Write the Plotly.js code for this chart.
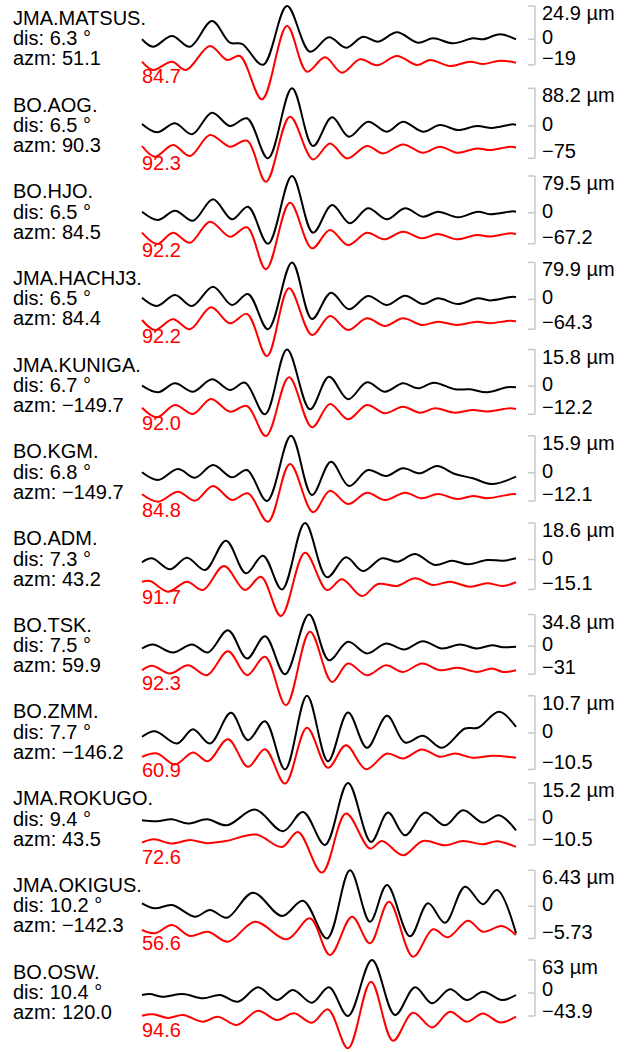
<!DOCTYPE html>
<html>
<head>
<meta charset="utf-8">
<script src="https://cdn.plot.ly/plotly-3.0.1.min.js"></script>
<style>html,body{margin:0;padding:0;background:#fff;}#chart{width:624px;height:1052px;}</style>
</head>
<body>
<div id="chart"></div>
<script>
// ---------- station metadata ----------
const stations = ["JMA.MATSUS.", "BO.AOG.", "BO.HJO.", "JMA.HACHJ3.", "JMA.KUNIGA.", "BO.KGM.", "BO.ADM.", "BO.TSK.", "BO.ZMM.", "JMA.ROKUGO.", "JMA.OKIGUS.", "BO.OSW."];
const distDeg = [6.3, 6.5, 6.5, 6.5, 6.7, 6.8, 7.3, 7.5, 7.7, 9.4, 10.2, 10.4];
const azimuth = [51.1, 90.3, 84.5, 84.4, -149.7, -149.7, 43.2, 59.9, -146.2, 43.5, -142.3, 120.0];
const varRed = ["84.7", "92.3", "92.2", "92.2", "92.0", "84.8", "91.7", "92.3", "60.9", "72.6", "56.6", "94.6"];
const obsMaxUm = ["24.9", "88.2", "79.5", "79.9", "15.8", "15.9", "18.6", "34.8", "10.7", "15.2", "6.43", "63"];
const obsMinUm = [-19, -75, -67.2, -64.3, -12.2, -12.1, -15.1, -31, -10.5, -10.5, -5.73, -43.9];

// ---------- waveforms (time, relative amplitude) ----------
const tObs1 = [0, 11, 30, 48, 70, 88, 100, 121, 145, 168, 187, 204, 221, 236, 255, 276, 291, 311, 331, 341, 358, 374];
const aObs1 = [0, -7.4, 3.3, -7.4, 18.3, -3.4, -4.5, -25.5, 33.3, -12.4, 2, -8.4, 2.6, -2.4, 7, -3.4, 1, -4, 1, 0, 5, 0];
const tSyn1 = [0, 11, 30, 44, 68, 85, 98, 120, 145, 165, 183, 200, 218, 235, 255, 275, 288, 308, 328, 341, 358, 374];
const aSyn1 = [0, -8.3, 0, -8.3, 15.7, 1.7, 5.7, -37.6, 35.7, -10, 4.4, -11, 2.4, -3.6, 5.7, -3.3, 1.7, -4.3, 0, -2.3, 1, -1];

const tObs2 = [0, 15, 33, 50, 70, 88, 105, 126, 150, 171, 190, 207, 226, 245, 261, 281, 298, 316, 335, 350, 371, 374];
const aObs2 = [2, -6.3, 2.7, -8.3, 13.3, 0, 7.7, -32.3, 37.7, -20, 8.7, -10.7, 4.3, -5.7, 4.3, -5.7, 1, -4, 0, -2, 1.7, 1];
const tSyn2 = [0, 13, 31, 48, 68, 88, 105, 124, 148, 171, 188, 205, 225, 241, 261, 281, 298, 315, 335, 348, 368, 374];
const aSyn2 = [2.4, -8.3, 3.4, -7.6, 13.4, 1.7, 7.7, -33.3, 31.7, -11, 5, -10, 2.4, -5, 4, -4.3, 1.7, -4.3, 0, -1.6, 1.7, 1];

const tObs3 = [0, 16, 33, 51, 71, 90, 106, 126, 150, 171, 190, 208, 226, 245, 263, 281, 296, 316, 336, 348, 371, 374];
const aObs3 = [1, -7.3, 2, -8, 13.4, -6.6, 6, -31, 36.7, -20, 7.7, -10.6, 4.4, -6.6, 4.4, -4, 1, -4.6, 1, -1.5, 1.4, 1];
const tSyn3 = [0, 15, 31, 48, 68, 88, 105, 124, 148, 170, 188, 206, 225, 242, 261, 280, 296, 315, 335, 348, 368, 374];
const aSyn3 = [2.4, -8.9, 2.4, -7.6, 13.4, -1.6, 7.8, -34.2, 32.4, -13.2, 5.1, -9.9, 2.4, -4.2, 3.4, -3.2, 1.1, -4.2, 0.1, -1.5, 1.8, 1.1];

const tObs4 = [0, 15, 33, 50, 71, 90, 106, 126, 150, 170, 189, 207, 226, 245, 263, 281, 296, 316, 336, 348, 371, 374];
const aObs4 = [1.7, -6.6, 4.4, -6.6, 12.7, -5.6, 5.4, -29.8, 37, -19.6, 6.7, -9.9, 3.4, -5.6, 3.7, -4.6, 1.1, -4.6, 1.1, -1, 2.7, 2.1];
const tSyn4 = [0, 13, 31, 48, 69, 88, 105, 125, 147, 170, 188, 206, 225, 243, 261, 280, 296, 315, 335, 348, 368, 374];
const aSyn4 = [1.8, -8.2, 2.5, -7.5, 14.5, -1.5, 7.8, -34.2, 33.5, -13.2, 5.8, -8.2, 3.5, -4.2, 3.5, -3.2, 0.1, -3.2, 0, -1.5, 1.1, 0.5];

const tObs5 = [0, 16, 33, 51, 70, 88, 103, 123, 145, 168, 187, 206, 225, 243, 261, 276, 292, 313, 328, 345, 365, 374];
const aObs5 = [0.4, -6.2, 2.8, -5.6, 6.8, -3.9, 3.4, -28.2, 36.5, -23.2, 9.4, -13.2, 3.8, -5.6, 2.8, -2.2, 3.4, -3.2, -3.2, -6.2, -1.2, -1.2];
const tSyn5 = [0, 15, 33, 51, 69, 88, 105, 124, 147, 170, 188, 206, 225, 243, 261, 278, 293, 313, 331, 345, 368, 374];
const aSyn5 = [0.8, -8.8, 3.5, -5.5, 9.5, -3.2, 2.5, -27.5, 31.2, -18.8, 4.5, -10.8, 3.5, -4.8, 1.8, -4.2, 0.2, -4.2, -1.5, -3, 0.2, -0.5];

const tObs6 = [0, 16, 36, 53, 71, 90, 105, 125, 149, 170, 189, 207, 226, 244, 261, 278, 295, 313, 331, 350, 374];
const aObs6 = [0.5, -7.2, 3.8, -4.9, 7.8, -4.5, 2.8, -28.2, 37, -22.2, 11.1, -13.2, 2.8, -3.2, 4.5, -0.5, 6.8, -1.2, -5.5, -11.2, -3.9];
const tSyn6 = [0, 16, 36, 53, 71, 90, 106, 126, 148, 171, 188, 206, 225, 243, 263, 280, 296, 315, 331, 345, 371, 374];
const aSyn6 = [0.9, -6.5, 3.5, -5.5, 9.2, -4.8, 1.9, -26.5, 31.2, -17, 4.5, -8.8, 2.5, -4.8, 2.5, -3.1, 1.2, -3.8, -0.8, -3, 1.2, 0.9];

const tObs7 = [0, 10, 28, 45, 63, 84, 104, 121, 140, 163, 185, 204, 221, 240, 256, 273, 293, 310, 326, 345, 361, 374];
const aObs7 = [-2.8, 1.2, -9.8, 1.8, -10.5, 18.8, -13.8, 3.8, -30, 36.5, -17.8, 2.2, -11.5, 1.2, -2.2, 5.5, -5.5, -1.2, -4.8, -0.5, -1.2, 1.2];
const tSyn7 = [0, 8, 26, 45, 61, 82, 103, 119, 139, 163, 185, 200, 220, 236, 255, 273, 291, 308, 328, 345, 361, 374];
const aSyn7 = [0.2, 1, -9.8, 0.2, -8.1, 15.9, -8.1, 5.2, -34.1, 29.2, -8.1, 2.6, -14.1, -2.1, -4, 3.6, -3.1, 0.2, -4.8, -1.4, -4, -0.4];

const tObs8 = [0, 11, 31, 50, 66, 86, 105, 123, 143, 167, 187, 206, 225, 244, 262, 281, 300, 318, 335, 350, 361, 374];
const aObs8 = [-2.3, 1.7, -6.3, 1.7, -6.3, 16, -12.3, 10, -28, 31.7, -14, 4.4, -7.3, 2.7, -3.3, 5, -2.3, 1.7, -2.3, 1, -1, -0.6];
const tSyn8 = [0, 10, 28, 46, 65, 86, 105, 123, 144, 168, 190, 206, 225, 244, 261, 280, 298, 316, 335, 350, 361, 374];
const aSyn8 = [-1.6, 2.8, -4.9, 3.4, -6.6, 17.4, -6.6, 11.8, -36.6, 36.8, -13.3, 5.1, -6.6, 3.4, -3.3, 5.1, -1.6, 0.8, -3.3, 0.1, -3.3, -1.6];

const tObs9 = [0, 13, 35, 51, 68, 89, 106, 123, 143, 165, 186, 206, 225, 245, 263, 281, 300, 323, 336, 357, 374];
const aObs9 = [-3.9, 1.7, -10.6, 3.7, -10.6, 20.1, -7.3, 11.7, -36.5, 37.1, -28.3, 20.4, -14.9, 17.1, -9.6, -2.9, -14.9, 4.4, 5.1, 21.1, 6.1];
const tSyn9 = [0, 15, 33, 51, 66, 86, 106, 123, 143, 165, 186, 204, 224, 245, 261, 280, 298, 313, 331, 351, 374];
const aSyn9 = [-1.5, 1.8, -9.2, 2.8, -5.9, 16.1, -11.5, 6.1, -28.2, 27.5, -12.5, 10.1, -13.9, 1.8, -3.2, 5.8, -1.5, 1.8, -2.5, -0.5, -2.5];

const tObs10 = [0, 15, 30, 46, 65, 85, 113, 141, 161, 183, 206, 229, 246, 263, 283, 303, 321, 341, 357, 374];
const aObs10 = [-0.7, -1.7, 0.3, -4, 0.3, -5.7, 10, -11.7, 7.7, -25.3, 36.7, -22.3, 7, -15.7, 7, -5.7, 9.3, -3, 4.4, -10.7];
const tSyn10 = [0, 12, 30, 48, 64, 84, 114, 140, 156, 180, 204, 228, 240, 261, 281, 303, 321, 341, 355, 374];
const aSyn10 = [-0.6, 2.7, -1.6, 1.9, -1.1, 0.9, 7.4, -4.9, 10.1, -30.6, 28.4, -6.6, 1.1, -13.3, 1.1, -3.3, 1.1, -2.3, 0.7, -4.9];

const tObs11 = [0, 13, 30, 53, 68, 85, 111, 140, 161, 185, 208, 228, 245, 268, 286, 303, 323, 341, 355, 374];
const aObs11 = [3, -2, 1.3, -10.4, -3.7, -11.4, 13.6, -9.7, 5.6, -32.2, 36, -15.4, 21.3, -30, 3, -16.4, 19.6, 2, 16.3, -27];
const tSyn11 = [0, 13, 30, 48, 66, 86, 113, 145, 168, 188, 210, 228, 247, 271, 291, 306, 326, 341, 360, 374];
const aSyn11 = [-1.3, -4.6, 3.7, -7.3, -3, -13, 7, -10.6, 10.4, -26.3, 12, -14.6, 27, -28, -0.6, -8.6, 8, -3, 2.7, -6.3];

const tObs12 = [0, 8, 20, 41, 61, 78, 96, 116, 135, 151, 170, 187, 206, 230, 253, 273, 290, 308, 325, 341, 360, 374];
const aObs12 = [-2, -1, -3.7, -1, -5.3, -2, -8.7, 5.7, -7, 3, -9.7, 5.7, -23, 33, -22, 5.7, -10.3, 3.7, -7, 1.3, -7, -2];
const tSyn12 = [0, 11, 26, 41, 61, 76, 95, 116, 135, 152, 170, 186, 206, 229, 251, 271, 290, 308, 325, 341, 358, 374];
const aSyn12 = [-0.3, 1.1, -2.5, 0.4, -6.3, -1.3, -9.6, 4.7, -4.6, 2.1, -7.3, 6, -32.9, 33.7, -25.3, 2.7, -12, 3.7, -6.3, 2, -7, -1.3];

const obsT = [tObs1, tObs2, tObs3, tObs4, tObs5, tObs6, tObs7, tObs8, tObs9, tObs10, tObs11, tObs12];
const obsA = [aObs1, aObs2, aObs3, aObs4, aObs5, aObs6, aObs7, aObs8, aObs9, aObs10, aObs11, aObs12];
const synT = [tSyn1, tSyn2, tSyn3, tSyn4, tSyn5, tSyn6, tSyn7, tSyn8, tSyn9, tSyn10, tSyn11, tSyn12];
const synA = [aSyn1, aSyn2, aSyn3, aSyn4, aSyn5, aSyn6, aSyn7, aSyn8, aSyn9, aSyn10, aSyn11, aSyn12];

// ---------- layout constants ----------
const W = 624, H = 1052;
const STEP = 86.7;      // vertical spacing between stations
const SYN_OFF = 22.4;   // synthetic drawn below observed
const TOP0 = 39.3;      // first zero line from top
const X0 = 142;         // trace start from left
const FONT = "Liberation Sans, Arial, Helvetica, sans-serif";
const FS = 20;
const fmt = v => String(v).replace('-', '\u2212');

const traces = [];
const shapes = [];
const barX = 535 / W, tickX = 528 / W;

// text label collections (drawn as text traces)
const leftX = [], leftY = [], leftT = [];
const redX = [], redY = [], redT = [];
const rightX = [], rightY = [], rightT = [];

stations.forEach((name, k) => {
  const base = -k * STEP;
  traces.push({
    x: obsT[k], y: obsA[k].map(a => a + base),
    mode: 'lines', line: {color: '#000000', width: 2, shape: 'spline', smoothing: 1},
    hoverinfo: 'skip'
  });
  traces.push({
    x: synT[k], y: synA[k].map(a => a + base - SYN_OFF),
    mode: 'lines', line: {color: '#ff0000', width: 2, shape: 'spline', smoothing: 1},
    hoverinfo: 'skip'
  });

  // left labels
  const lx = 13 - X0;
  leftX.push(lx, lx, lx);
  leftY.push(base + 19.5, base - 1, base - 21);
  leftT.push(name, 'dis: ' + distDeg[k].toFixed(1) + ' \u00b0', 'azm: ' + fmt(azimuth[k].toFixed(1)));
  redX.push(0); redY.push(base - 39); redT.push(varRed[k]);

  // scale bar from the observed extremes
  const mx = Math.max(...obsA[k]), mn = Math.min(...obsA[k]);
  const grey = {color: '#c8c8c8', width: 1.5};
  shapes.push({type: 'line', xref: 'paper', yref: 'y', x0: barX, x1: barX, y0: base + mx, y1: base + mn, line: grey});
  [mx, 0, mn].forEach(v => shapes.push({type: 'line', xref: 'paper', yref: 'y', x0: tickX, x1: barX, y0: base + v, y1: base + v, line: grey}));

  // right labels with simple de-overlap
  let dTop = mx - 9, dZero = 0, dBot = mn + 5;
  const G = 21.5;
  for (let it = 0; it < 3; it++) {
    if (dTop - dZero < G) { const o = G - (dTop - dZero); dTop += o / 2; dZero -= o / 2; }
    if (dZero - dBot < G) { const o = G - (dZero - dBot); dZero += o / 2; dBot -= o / 2; }
  }
  const rx = 542 - X0;
  rightX.push(rx, rx, rx);
  rightY.push(base + dTop, base + dZero, base + dBot);
  rightT.push(obsMaxUm[k] + ' \u00b5m', '0', fmt(obsMinUm[k]));
});

const textTrace = (x, y, t, color) => ({
  x: x, y: y, text: t, mode: 'text', textposition: 'middle right',
  textfont: {family: FONT, size: FS, color: color}, cliponaxis: false, hoverinfo: 'skip'
});
traces.push(textTrace(leftX, leftY, leftT, '#000000'));
traces.push(textTrace(redX, redY, redT, '#ff0000'));
traces.push(textTrace(rightX, rightY, rightT, '#000000'));

const layout = {
  width: W, height: H,
  margin: {l: 0, r: 0, t: 0, b: 0, pad: 0},
  paper_bgcolor: '#ffffff', plot_bgcolor: '#ffffff',
  showlegend: false,
  xaxis: {domain: [0, 1], range: [-X0, W - X0], visible: false, fixedrange: true},
  yaxis: {domain: [0, 1], range: [TOP0 - H, TOP0], visible: false, fixedrange: true},
  shapes: shapes
};

Plotly.newPlot('chart', traces, layout, {staticPlot: true, displayModeBar: false});
</script>
</body>
</html>
